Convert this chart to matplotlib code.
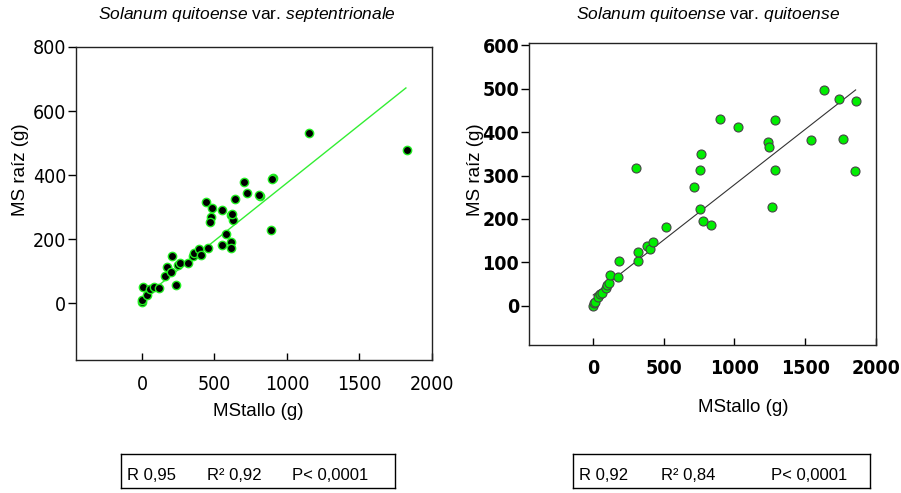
import matplotlib
matplotlib.use("Agg")
import matplotlib.pyplot as plt

# Left panel: S. quitoense var. septentrionale
sep_stem = [0, 3, 10, 32, 55, 83, 120, 159, 170, 200, 207, 232, 250, 262, 319, 354,
            361, 391, 409, 453, 441, 474, 469, 483, 554, 550, 579, 614, 625, 622,
            616, 612, 644, 706, 724, 814, 810, 901, 898, 890, 1154, 1828]
sep_root = [4, 10, 51, 25, 45, 49, 46, 86, 113, 98, 147, 56, 119, 126, 126, 147,
            155, 169, 150, 173, 315, 268, 254, 296, 290, 181, 216, 275, 260, 277,
            190, 172, 325, 377, 343, 334, 337, 390, 386, 228, 532, 478]
sep_fit_x = [-10, 1820]
sep_fit_y = [10, 672]

# Right panel: S. quitoense var. quitoense
qui_stem = [2, 9, 14, 38, 49, 66, 90, 99, 113, 120, 174, 184, 320, 320, 379, 405,
            426, 516, 756, 775, 834, 302, 716, 759, 766, 900, 1022, 1234, 1244,
            1289, 1284, 1267, 1543, 1632, 1740, 1764, 1849, 1861]
qui_root = [0, 6, 10, 21, 27, 29, 41, 47, 52, 71, 66, 103, 103, 123, 138, 131,
            148, 181, 223, 196, 187, 317, 274, 313, 350, 431, 411, 378, 365,
            427, 312, 228, 382, 497, 475, 384, 310, 472]
qui_fit_x = [2, 1856]
qui_fit_y = [25, 497]

stats_sep = ["R 0,95", "R² 0,92", "P< 0,0001"]
stats_qui = ["R 0,92", "R² 0,84", "P< 0,0001"]

plt.rcParams["font.family"] = ["Liberation Sans", "DejaVu Sans"]
plt.rcParams["mathtext.fontset"] = "custom"
plt.rcParams["mathtext.rm"] = "Liberation Sans"
plt.rcParams["mathtext.it"] = "Liberation Sans:italic"

fig = plt.figure(figsize=(9.01, 4.93), dpi=100)
W, H = 901, 493


def px_axes(x0, y0, x1, y1):
    return fig.add_axes([x0 / W, 1 - y1 / H, (x1 - x0) / W, (y1 - y0) / H])


def style(ax, bold, xpad):
    for s in ax.spines.values():
        s.set_linewidth(1.0)
        s.set_color("#222222")
    ax.tick_params(axis="y", direction="out", length=6, width=1, pad=1)
    ax.tick_params(axis="x", direction="in", length=5, width=1, pad=xpad)
    for lab in ax.get_xticklabels() + ax.get_yticklabels():
        lab.set_fontfamily("DejaVu Sans")
        lab.set_fontstretch("condensed")
        lab.set_fontsize(14)
        lab.set_fontweight("bold" if bold else "normal")


# left
ax1 = px_axes(76, 47, 432, 360)
ax1.plot(sep_fit_x, sep_fit_y, color="#33ee33", lw=1.0, zorder=1)
ax1.scatter(sep_stem, sep_root, s=36, facecolor="black", edgecolor="#22ee22",
            linewidth=1.0, zorder=2)
ax1.set_xlim(-455, 2000)
ax1.set_ylim(-178, 800)
ax1.set_xticks([0, 500, 1000, 1500, 2000])
ax1.set_yticks([0, 200, 400, 600, 800])
style(ax1, False, 11)

# right
ax2 = px_axes(529, 43, 876, 345)
ax2.plot(qui_fit_x, qui_fit_y, color="#333333", lw=0.8, zorder=1)
ax2.scatter(qui_stem, qui_root, s=42, facecolor="#00ee00", edgecolor="#444444",
            linewidth=0.8, zorder=2)
ax2.set_xlim(-452, 2000)
ax2.set_ylim(-90, 605)
ax2.set_xticks([0, 500, 1000, 1500, 2000])
ax2.set_yticks([0, 100, 200, 300, 400, 500, 600])
style(ax2, True, 10)

# titles and labels
fig.text(247 / W, 1 - 15 / H, r"$\it{Solanum\ quitoense}$ var. $\it{septentrionale}$",
         ha="center", va="center", fontsize=12.5)
fig.text(708 / W, 1 - 15 / H, r"$\it{Solanum\ quitoense}$ var. $\it{quitoense}$",
         ha="center", va="center", fontsize=12.5)
fig.text(21 / W, 1 - 170 / H, "MS raíz (g)", rotation=90, ha="center", va="center", fontsize=13.5)
fig.text(476 / W, 1 - 170 / H, "MS raíz (g)", rotation=90, ha="center", va="center", fontsize=13.5)
fig.text(258 / W, 1 - 411 / H, "MStallo (g)", ha="center", va="center", fontsize=13.5)
fig.text(743 / W, 1 - 408 / H, "MStallo (g)", ha="center", va="center", fontsize=13.5)

# stats boxes
for (x0, x1), xs, labels in [((121, 395), (127, 207, 292), stats_sep),
                             ((573, 870), (579, 661, 771), stats_qui)]:
    bax = px_axes(x0, 454, x1, 488)
    bax.set_xticks([])
    bax.set_yticks([])
    for s in bax.spines.values():
        s.set_linewidth(1.0)
    for xp, lab in zip(xs, labels):
        fig.text(xp / W, 1 - 475 / H, lab, ha="left", va="center", fontsize=12)

fig.savefig("out.png", dpi=100)
